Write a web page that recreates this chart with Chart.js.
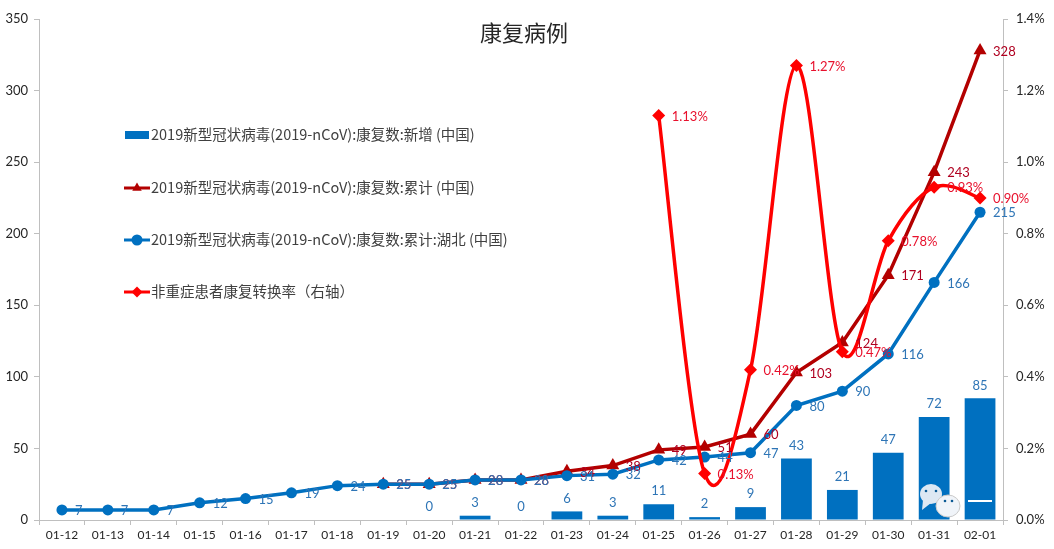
<!DOCTYPE html>
<html>
<head>
<meta charset="utf-8">
<title>康复病例</title>
<script src="https://cdn.jsdelivr.net/npm/chart.js@4/dist/chart.umd.min.js"></script>
<style>
    html, body { margin: 0; padding: 0; background: #fff; overflow: hidden; }
    #grafico { display: block; }
</style>
</head>
<body>
<canvas id="grafico" width="1054" height="549"></canvas>
<script>
var categorias = ["01-12", "01-13", "01-14", "01-15", "01-16", "01-17", "01-18", "01-19", "01-20", "01-21", "01-22",
    "01-23", "01-24", "01-25", "01-26", "01-27", "01-28", "01-29", "01-30", "01-31", "02-01"];

var novos = [null, null, null, null, null, null, null, null, 0, 3, 0, 6, 3, 11, 2, 9, 43, 21, 47, 72, 85];
var acumuladoChina = [null, null, null, null, null, null, null, 25, 25, 28, 28, 34, 38, 49, 51, 60, 103, 124, 171, 243, 328];
var acumuladoHubei = [7, 7, 7, 12, 15, 19, 24, 25, 25, 28, 28, 31, 32, 42, 44, 47, 80, 90, 116, 166, 215];
var taxa = [null, null, null, null, null, null, null, null, null, null, null, null, null, 1.13, 0.13, 0.42, 1.27, 0.47, 0.78, 0.93, 0.90];

var nomeNovos = "2019新型冠状病毒(2019-nCoV):康复数:新增 (中国)";
var nomeChina = "2019新型冠状病毒(2019-nCoV):康复数:累计 (中国)";
var nomeHubei = "2019新型冠状病毒(2019-nCoV):康复数:累计:湖北 (中国)";
var nomeTaxa = "非重症患者康复转换率（右轴）";

var AZUL = "#0070c0", VINHO = "#b30000", VERMELHO = "#ff0000";
var FONTE = 'Lato, "Noto Sans CJK SC", sans-serif';

// curva como a do Excel: tangente uniforme, sem o peso por distancia do Chart.js
var pluginCurva = {
    id: "curvaExcel",
    beforeDatasetsDraw: function (chart) {
        chart.data.datasets.forEach(function (ds, i) {
            if (!ds.tension) return;
            var linha = chart.getDatasetMeta(i).dataset;
            linha.updateControlPoints(chart.chartArea);
            var pts = linha.points.filter(function (p) { return !p.skip; });
            pts.forEach(function (p, j) {
                var ant = pts[Math.max(j - 1, 0)];
                var prox = pts[Math.min(j + 1, pts.length - 1)];
                var dx = (prox.x - ant.x) / 6;
                var dy = (prox.y - ant.y) / 6;
                p.cp1x = p.x - dx;
                p.cp1y = p.y - dy;
                p.cp2x = p.x + dx;
                p.cp2y = p.y + dy;
            });
        });
    }
};

// rotulos dos pontos, desenhados depois das series
var pluginRotulos = {
    id: "rotulos",
    afterDatasetsDraw: function (chart) {
        var ctx = chart.ctx;
        ctx.save();
        ctx.font = "13px " + FONTE;
        ctx.textBaseline = "middle";
        chart.data.datasets.forEach(function (ds, i) {
            var pontos = chart.getDatasetMeta(i).data;
            ds.data.forEach(function (v, j) {
                if (v === null) return;
                var p = pontos[j];
                ctx.fillStyle = ds.corRotulo;
                if (ds.type === "bar") {
                    ctx.textAlign = "center";
                    ctx.fillText(v, p.x, p.y - 13);
                } else {
                    ctx.textAlign = "left";
                    ctx.fillText(ds.yAxisID === "y1" ? v.toFixed(2) + "%" : v, p.x + 13, p.y + 1);
                }
            });
        });
        ctx.restore();
    }
};

// legenda solta dentro do grafico, titulo e marca d'agua
var pluginLegenda = {
    id: "legendaSolta",
    afterDraw: function (chart) {
        var ctx = chart.ctx;
        ctx.save();
        ctx.fillStyle = "#262626";
        ctx.font = '22px "Noto Sans CJK SC", sans-serif';
        ctx.textAlign = "center";
        ctx.textBaseline = "middle";
        ctx.fillText("康复病例", 524, 33);

        var itens = [
            { nome: nomeNovos, y: 135, cor: AZUL, ponto: null },
            { nome: nomeChina, y: 188, cor: VINHO, ponto: "triangle" },
            { nome: nomeHubei, y: 240, cor: AZUL, ponto: "circle" },
            { nome: nomeTaxa, y: 292, cor: VERMELHO, ponto: "rectRot" }
        ];
        ctx.textAlign = "left";
        ctx.font = '14.5px "Noto Sans CJK SC", sans-serif';
        itens.forEach(function (it) {
            ctx.fillStyle = it.cor;
            ctx.strokeStyle = it.cor;
            if (it.ponto === null) {
                ctx.fillRect(125, it.y - 4, 24, 8);
            } else {
                ctx.lineWidth = 3;
                ctx.beginPath();
                ctx.moveTo(124, it.y);
                ctx.lineTo(150, it.y);
                ctx.stroke();
                ctx.lineWidth = 0;
                Chart.helpers.drawPoint(ctx, { pointStyle: it.ponto, radius: 5.5, rotation: 0, borderWidth: 0 }, 137, it.y);
            }
            ctx.fillStyle = "#404040";
            ctx.fillText(it.nome, 151, it.y - 1);
        });

        // marca d'agua
        ctx.fillStyle = "#dde8f3";
        ctx.beginPath();
        ctx.ellipse(931, 494, 11, 10, 0, 0, Math.PI * 2);
        ctx.fill();
        ctx.beginPath();
        ctx.moveTo(923, 500);
        ctx.lineTo(922, 510);
        ctx.lineTo(931, 503);
        ctx.fill();
        ctx.fillStyle = "#f0f4f9";
        ctx.strokeStyle = "#c9c9c9";
        ctx.lineWidth = 1;
        ctx.beginPath();
        ctx.ellipse(948, 506, 12, 11, 0, 0, Math.PI * 2);
        ctx.fill();
        ctx.stroke();
        ctx.fillStyle = "#0b5a94";
        [[926, 491], [936, 491], [945, 501], [952, 501]].forEach(function (o) {
            ctx.beginPath();
            ctx.arc(o[0], o[1], 1.3, 0, Math.PI * 2);
            ctx.fill();
        });
        ctx.strokeStyle = "#ffffff";
        ctx.lineWidth = 2;
        ctx.beginPath();
        ctx.moveTo(968, 501);
        ctx.lineTo(992, 501);
        ctx.stroke();
        ctx.restore();
    }
};

var ctx = document.getElementById("grafico").getContext("2d");
var grafico = new Chart(ctx, {
    type: "bar",
    data: {
        labels: categorias,
        datasets: [
            {
                type: "bar", label: nomeNovos, data: novos, backgroundColor: AZUL, corRotulo: "#2e75b6",
                barPercentage: 0.67, categoryPercentage: 1, yAxisID: "y", order: 4
            },
            {
                type: "line", label: nomeChina, data: acumuladoChina, borderColor: VINHO, backgroundColor: VINHO, corRotulo: "#b00020",
                borderWidth: 3.5, pointStyle: "triangle", pointRadius: 7.5, pointBorderWidth: 0, yAxisID: "y", order: 3
            },
            {
                type: "line", label: nomeHubei, data: acumuladoHubei, borderColor: AZUL, backgroundColor: AZUL, corRotulo: "#2e75b6",
                borderWidth: 3.5, pointStyle: "circle", pointRadius: 5.5, pointBorderWidth: 0, yAxisID: "y", order: 2
            },
            {
                type: "line", label: nomeTaxa, data: taxa, borderColor: VERMELHO, backgroundColor: VERMELHO, corRotulo: "#e8112d",
                borderWidth: 3.5, pointStyle: "rectRot", pointRadius: 6.5, pointBorderWidth: 0, tension: 0.5, yAxisID: "y1", order: 1
            }
        ]
    },
    options: {
        responsive: false,
        animation: false,
        layout: { padding: { top: 19, left: 0, right: 0, bottom: 0 } },
        plugins: {
            legend: { display: false },
            title: { display: false },
            tooltip: { enabled: false }
        },
        scales: {
            x: {
                offset: true,
                grid: { offset: true, drawOnChartArea: false, color: "#bfbfbf", tickLength: 5 },
                border: { color: "#bfbfbf" },
                ticks: { color: "#262626", font: { size: 12, family: FONTE }, maxRotation: 0, autoSkip: false, padding: 3 },
                afterFit: function (escala) { escala.height = 29; }
            },
            y: {
                position: "left",
                min: 0,
                max: 350,
                grid: { drawOnChartArea: false, color: "#bfbfbf", tickLength: 5 },
                border: { color: "#bfbfbf" },
                ticks: { stepSize: 50, color: "#262626", font: { size: 13, family: FONTE }, padding: 6 },
                afterFit: function (escala) { escala.width = 39; }
            },
            y1: {
                position: "right",
                min: 0,
                max: 1.4,
                grid: { drawOnChartArea: false, color: "#bfbfbf", tickLength: 5 },
                border: { color: "#bfbfbf" },
                ticks: {
                    stepSize: 0.2, color: "#262626", font: { size: 13, family: FONTE }, padding: 8,
                    callback: function (v) { return v.toFixed(1) + "%"; }
                },
                afterFit: function (escala) { escala.width = 51; }
            }
        }
    },
    plugins: [pluginCurva, pluginRotulos, pluginLegenda]
});
</script>
</body>
</html>
